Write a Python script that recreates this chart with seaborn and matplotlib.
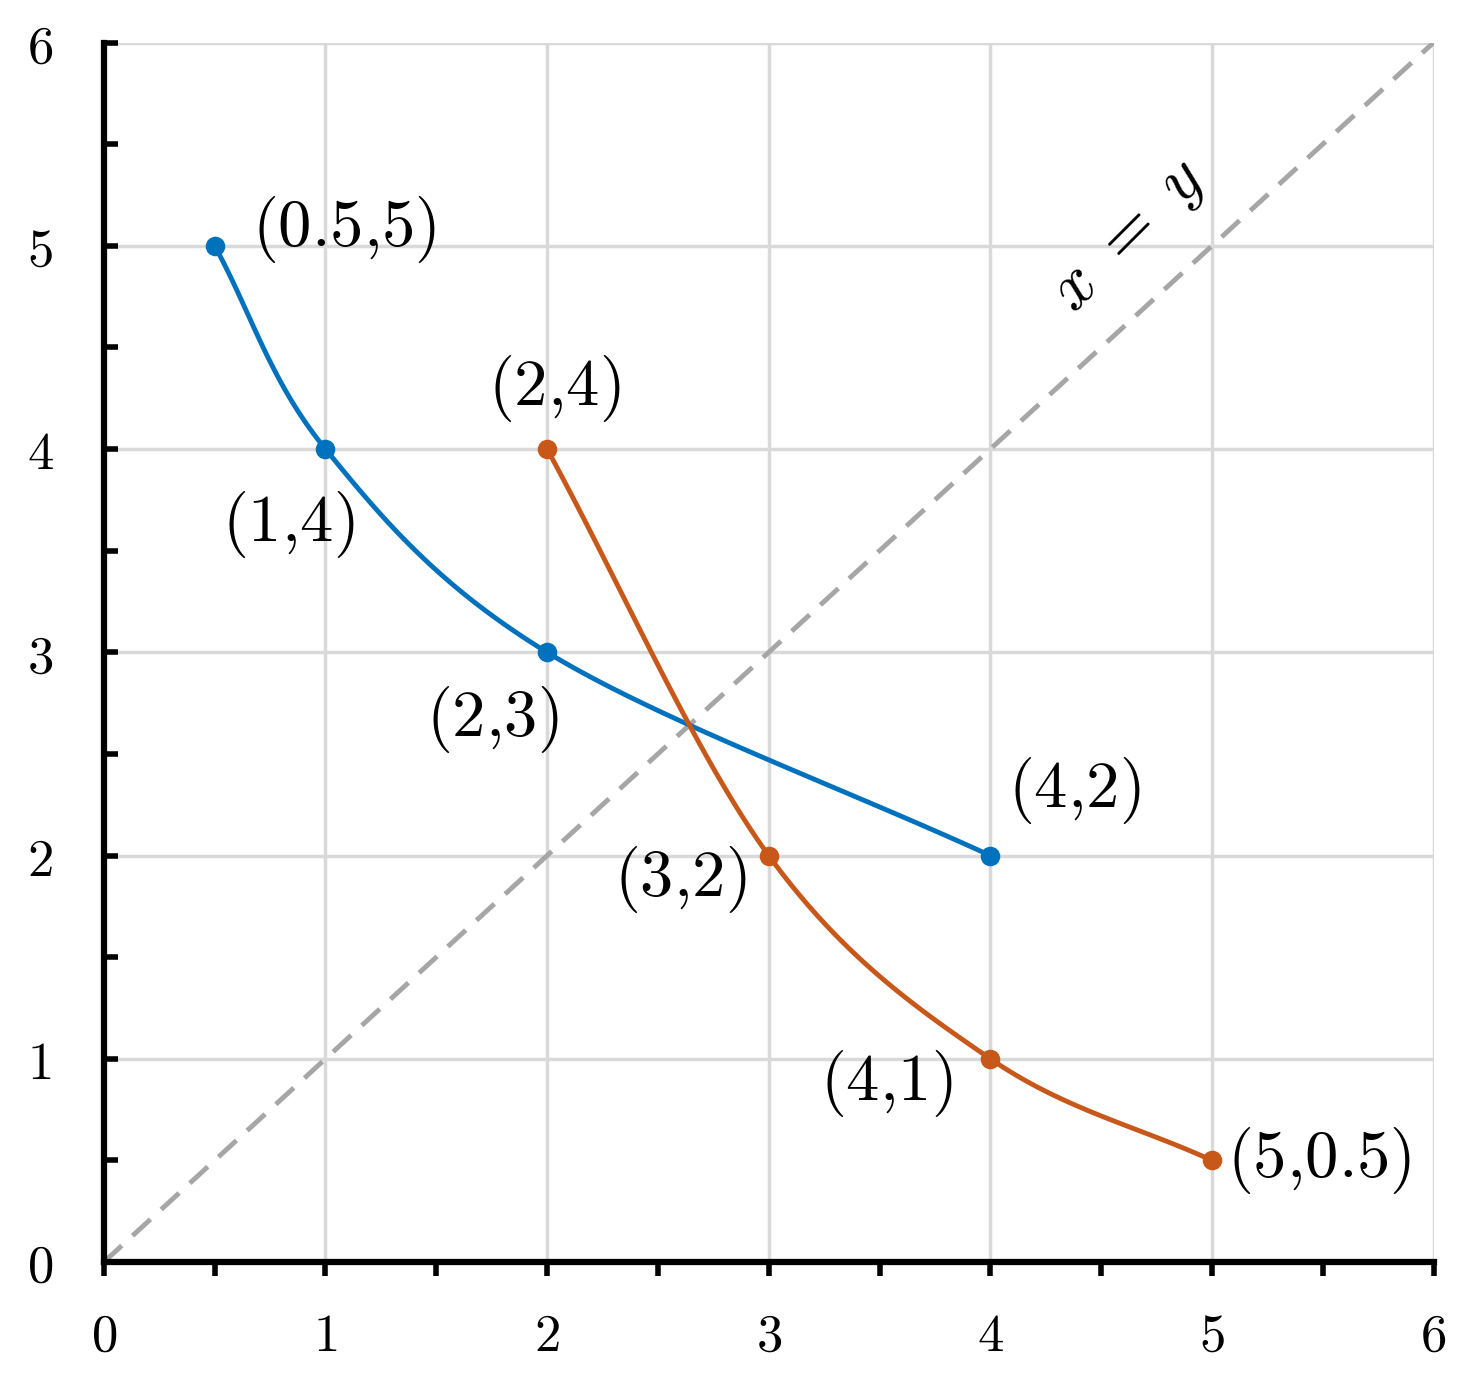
import numpy as np
import matplotlib
matplotlib.use("Agg")
import matplotlib.pyplot as plt
import seaborn as sns

sns.set_style("white")
plt.rcParams['mathtext.fontset'] = 'cm'
plt.rcParams['font.family'] = ['DejaVu Serif']
plt.rcParams['text.color'] = 'black'
plt.rcParams['xtick.color'] = 'black'
plt.rcParams['ytick.color'] = 'black'

blue_x = [0.5, 1, 2, 4]
blue_y = [5, 4, 3, 2]
blue_labels = ['(0.5{,}5)', '(1{,}4)', '(2{,}3)', '(4{,}2)']
orange_x = [2, 3, 4, 5]
orange_y = [4, 2, 1, 0.5]
orange_labels = ['(2{,}4)', '(3{,}2)', '(4{,}1)', '(5{,}0.5)']
ticks = [0, 1, 2, 3, 4, 5, 6]


def smooth(xs, ys, n=40):
    # Catmull-Rom curve through the points
    p = np.column_stack([xs, ys]).astype(float)
    p = np.vstack([2 * p[0] - p[1], p, 2 * p[-1] - p[-2]])
    out = []
    for i in range(1, len(p) - 2):
        t = np.linspace(0, 1, n)[:, None]
        p0, p1, p2, p3 = p[i - 1], p[i], p[i + 1], p[i + 2]
        seg = 0.5 * ((2 * p1) + (-p0 + p2) * t + (2 * p0 - 5 * p1 + 4 * p2 - p3) * t ** 2
                     + (-p0 + 3 * p1 - 3 * p2 + p3) * t ** 3)
        out.append(seg)
    out = np.vstack(out)
    return out[:, 0], out[:, 1]


fig = plt.figure(figsize=(14.84, 13.74), dpi=100)
ax = fig.add_axes([0.070, 0.0815, 0.896, 0.8875])

ax.plot([0, 6], [0, 6], ls=(0, (5, 3)), color='#a6a6a6', lw=3.5, zorder=1)

for xs, ys, c in [(blue_x, blue_y, '#0072BD'), (orange_x, orange_y, '#C8581A')]:
    sx, sy = smooth(xs, ys)
    sns.lineplot(x=sx, y=sy, sort=False, color=c, lw=3.5, ax=ax, zorder=3)
    sns.scatterplot(x=xs, y=ys, color=c, s=170, edgecolor=c, ax=ax, zorder=4)

fs = 48
offs_b = [(0.17, 0.08, 'left', 'center'), (0.13, -0.37, 'right', 'center'),
          (0.05, -0.33, 'right', 'center'), (0.08, 0.32, 'left', 'center')]
for x, y, lab, (dx, dy, ha, va) in zip(blue_x, blue_y, blue_labels, offs_b):
    ax.text(x + dx, y + dy, f'${lab}$', fontsize=fs, ha=ha, va=va)
offs_o = [(0.03, 0.3, 'center', 'center'), (-0.1, -0.12, 'right', 'center'),
          (-0.17, -0.12, 'right', 'center'), (0.07, 0.0, 'left', 'center')]
for x, y, lab, (dx, dy, ha, va) in zip(orange_x, orange_y, orange_labels, offs_o):
    ax.text(x + dx, y + dy, f'${lab}$', fontsize=fs, ha=ha, va=va)

ax.text(4.62, 5.05, r'$x\ =\ y$', fontsize=fs, rotation=45, ha='center', va='center')

ax.set_xlim(0, 6)
ax.set_ylim(0, 6)
tpos = np.arange(0, 6.01, 0.5)
ax.set_xticks(tpos)
ax.set_yticks(tpos)
ax.set_xticklabels([f'${int(t)}$' if t % 1 == 0 else '' for t in tpos], fontsize=38)
ax.set_yticklabels([f'${int(t)}$' if t % 1 == 0 else '' for t in tpos], fontsize=38)
ax.tick_params(axis='x', bottom=True, direction='out', length=10, width=4, pad=25)
ax.tick_params(axis='y', left=True, direction='in', length=10, width=4, pad=55)
for lab in ax.get_yticklabels():
    lab.set_horizontalalignment('left')

for t in ticks:
    ax.axvline(t, color='#d9d9d9', lw=2.5, zorder=0)
    ax.axhline(t, color='#d9d9d9', lw=2.5, zorder=0)

for s in ['top', 'right']:
    ax.spines[s].set_visible(False)
for s in ['left', 'bottom']:
    ax.spines[s].set_linewidth(4.5)
    ax.spines[s].set_color('black')

fig.savefig('out.png', dpi=100)
